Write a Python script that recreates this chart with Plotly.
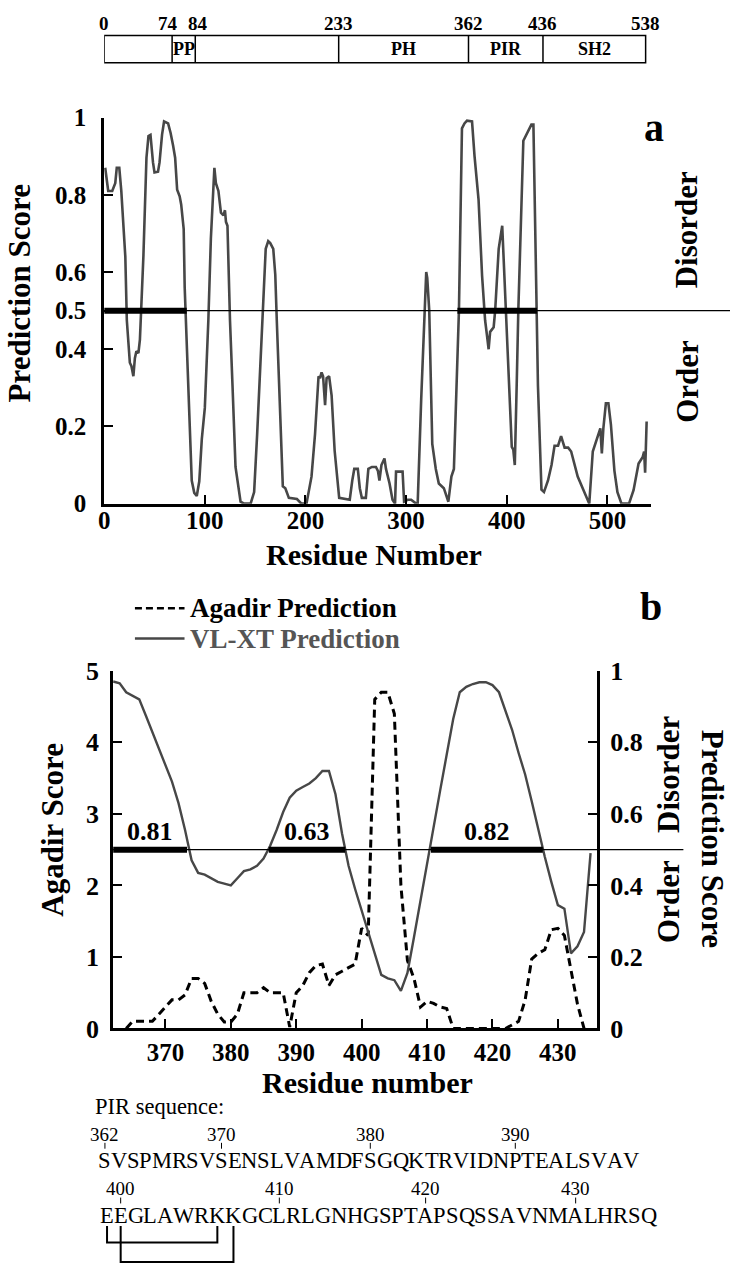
import plotly.graph_objects as go

# ---------------- data ----------------
domain_bounds = [0, 74, 84, 233, 362, 436, 538]
domain_names = ["", "PP", "", "PH", "PIR", "SH2"]

# Panel a: VL-XT disorder prediction over the full protein (vertices)
vlxt_a_res = [1, 4, 8, 11, 12.5, 15, 17, 21, 22.5, 25.5, 27, 29, 30.5, 32, 34, 35.5, 39, 42, 44, 46,
              48.5, 50, 53.5, 55, 57.5, 59.5, 63.5, 66, 68.5, 70.5, 72.5, 75, 76.5, 79, 80, 82.5, 85, 87,
              89.5, 92, 94.5, 97, 100, 103.5, 106, 108.5, 109.5, 111, 113.5, 116, 118.5, 120, 121, 122.5,
              125, 127.5, 130.5, 135.5, 139, 145.5, 149, 152, 155.5, 158.5, 160.5, 163, 165, 168, 170,
              171.5, 175, 177.5, 180, 183.5, 191.5, 196, 201, 206, 209.5, 213, 214.5, 216, 217.5, 219.5,
              221, 223.5, 226, 229, 233.5, 241, 244, 246.5, 248.5, 252, 254, 256, 260, 262.5, 266, 270,
              272, 273.5, 275.5, 278.5, 280, 283.5, 286.5, 289, 290, 296.5, 298, 301.5, 305, 310, 311.5,
              315, 318, 320, 321, 323, 326, 329.5, 332.5, 337.5, 342, 345, 347.5, 352.5, 355.5, 358, 360.5,
              365.5, 368, 372, 375.5, 378.5, 380.5, 382, 383.5, 387, 388.5, 392, 395.5, 397.5, 400, 402,
              405, 406.5, 408, 410, 411.5, 416.5, 420, 424.5, 426.5, 429.5, 431, 434.5, 437, 441, 444.5,
              447.5, 451, 454, 457.5, 461, 464, 470.5, 477, 482, 485.5, 490, 493, 494.5, 496, 498.5, 501,
              503.5, 507, 510, 514, 521.5, 526, 531, 535, 536.5, 537.5, 539]
vlxt_a_score = [0.87, 0.81, 0.81, 0.83, 0.87, 0.87, 0.81, 0.64, 0.475, 0.365, 0.357, 0.33, 0.377, 0.395,
                0.39, 0.425, 0.643, 0.896, 0.952, 0.955, 0.884, 0.858, 0.86, 0.884, 0.956, 0.99, 0.985,
                0.96, 0.927, 0.896, 0.813, 0.796, 0.775, 0.711, 0.56, 0.39, 0.22, 0.06, 0.028, 0.02,
                0.058, 0.167, 0.248, 0.475, 0.686, 0.85, 0.87, 0.83, 0.81, 0.754, 0.747, 0.76, 0.73,
                0.72, 0.475, 0.306, 0.095, 0.005, 0.0, 0.0, 0.03, 0.18, 0.39, 0.56, 0.66, 0.68, 0.675,
                0.66, 0.593, 0.475, 0.22, 0.045, 0.04, 0.015, 0.012, 0.0, 0.0, 0.07, 0.18, 0.33, 0.325,
                0.34, 0.33, 0.255, 0.325, 0.33, 0.28, 0.137, 0.015, 0.01, 0.01, 0.06, 0.09, 0.09, 0.04,
                0.015, 0.015, 0.09, 0.095, 0.095, 0.085, 0.06, 0.1, 0.117, 0.09, 0.053, 0.01, 0.0,
                0.083, 0.083, 0.005, 0.01, 0.01, 0.0, 0.0, 0.27, 0.5, 0.6, 0.585, 0.5, 0.155, 0.09,
                0.052, 0.04, 0.005, 0.07, 0.09, 0.5, 0.972, 0.985, 0.992, 0.99, 0.9, 0.787, 0.59,
                0.475, 0.433, 0.4, 0.445, 0.457, 0.5, 0.66, 0.72, 0.6, 0.475, 0.35, 0.147, 0.14, 0.1,
                0.32, 0.5, 0.94, 0.96, 0.982, 0.982, 0.5, 0.306, 0.036, 0.03, 0.06, 0.1, 0.15, 0.15,
                0.175, 0.145, 0.145, 0.135, 0.07, 0.03, 0.0, 0.135, 0.175, 0.195, 0.13, 0.195, 0.26,
                0.26, 0.205, 0.085, 0.03, 0.0, 0.0, 0.035, 0.104, 0.12, 0.135, 0.08, 0.213]
disorder_a_ranges = [[0, 82], [351, 430]]

# Panel b: PIR region, VL-XT (right axis) and Agadir (left axis)
pir_res = [362, 363, 364, 365, 366, 367, 368, 369, 370, 371, 372, 373, 374, 375, 376, 377, 378, 379,
           380, 381, 382, 383, 384, 385, 386, 387, 388, 389, 390, 391, 392, 393, 394, 395, 396, 397,
           398, 399, 400, 401, 402, 403, 404, 405, 406, 407, 408, 409, 410, 411, 412, 413, 414, 415,
           416, 417, 418, 419, 420, 421, 422, 423, 424, 425, 426, 427, 428, 429, 430, 431, 432, 433,
           434, 435]
vlxt_pir_score = [0.97, 0.965, 0.94, 0.93, 0.92, 0.875, 0.83, 0.785, 0.74, 0.69, 0.63, 0.555, 0.47,
                  0.435, 0.43, 0.42, 0.41, 0.405, 0.40, 0.42, 0.44, 0.445, 0.455, 0.475, 0.51, 0.555,
                  0.605, 0.645, 0.665, 0.675, 0.685, 0.70, 0.72, 0.72, 0.655, 0.545, 0.455, 0.39, 0.33,
                  0.27, 0.21, 0.15, 0.14, 0.135, 0.105, 0.155, 0.255, 0.36, 0.465, 0.565, 0.665, 0.765,
                  0.865, 0.94, 0.955, 0.963, 0.968, 0.968, 0.96, 0.94, 0.89, 0.835, 0.77, 0.71, 0.635,
                  0.555, 0.48, 0.41, 0.345, 0.335, 0.21, 0.23, 0.27, 0.49]
agadir_res = [364, 365, 366, 367, 368, 369, 370, 371, 372, 373, 374, 375, 376, 377, 378, 379, 380, 381,
              382, 383, 384, 385, 386, 387, 388, 389, 390, 391, 392, 393, 394, 395, 396, 397, 398, 399,
              400, 401, 402, 403, 404, 405, 406, 407, 408, 409, 410, 411, 412, 413, 414, 415, 416, 417,
              418, 419, 420, 421, 422, 423, 424, 425, 426, 427, 428, 429, 430, 431, 432, 433, 434]
agadir_score = [0.0, 0.1, 0.1, 0.1, 0.1, 0.2, 0.3, 0.4, 0.4, 0.47, 0.7, 0.7, 0.63, 0.38, 0.2, 0.09,
                0.09, 0.2, 0.5, 0.5, 0.5, 0.57, 0.5, 0.5, 0.5, 0.02, 0.5, 0.6, 0.78, 0.88, 0.9, 0.6,
                0.75, 0.8, 0.85, 0.9, 1.4, 1.3, 4.6, 4.7, 4.7, 4.4, 2.0, 0.95, 0.7, 0.3, 0.38, 0.35,
                0.3, 0.28, 0.0, 0.0, 0.0, 0.0, 0.0, 0.0, 0.0, 0.0, 0.0, 0.05, 0.1, 0.4, 0.97, 1.05,
                1.1, 1.38, 1.4, 1.3, 0.84, 0.34, 0.0]
disorder_b_ranges = [[362, 373.3], [385.8, 397.5], [410.6, 427.7]]
disorder_b_means = ["0.81", "0.63", "0.82"]

pir_seq_lines = ["SVSPMRSVSENSLVAMDFSGQKTRVIDNPTEALSVAV",
                 "EEGLAWRKKGCLRLGNHGSPTAPSQSSAVNMALHRSQ"]
pir_first_residue = 362
seq_tick_residues = [362, 370, 380, 390, 400, 410, 420, 430]
salt_bridges = [[399, 406], [400, 407]]

a_xticks = [0, 100, 200, 300, 400, 500]
a_yticks = [0, 0.2, 0.4, 0.5, 0.6, 0.8, 1]
a_yticktext = ["0", "0.2", "0.4", "0.5", "0.6", "0.8", "1"]
b_xticks = [370, 380, 390, 400, 410, 420, 430]
b_agadir_ticks = [0, 1, 2, 3, 4, 5]
b_pred_ticks = [0, 0.2, 0.4, 0.6, 0.8, 1]
b_pred_ticktext = ["0", "0.2", "0.4", "0.6", "0.8", "1"]

# ---------------- styling / layout helpers ----------------
W, H = 730, 1280
SERIF = "Liberation Serif, Times New Roman, serif"
INK = "#000000"
CURVE = "#474747"
LEGEND_GRAY = "#555555"


def fx(p):
    return p / W


def fy(p):
    return 1 - p / H


def label(x, y, s, size, bold=True, color=INK, angle=0, xanchor="center",
          xref="paper", yref="paper", xshift=0, yshift=0):
    return dict(x=x, y=y, xref=xref, yref=yref, text=s, showarrow=False, textangle=angle,
                xanchor=xanchor, yanchor="middle", xshift=xshift, yshift=yshift,
                font=dict(family=SERIF, size=size, color=color,
                          weight="bold" if bold else "normal"))


def axis_style(size, standoff):
    return dict(showline=True, linecolor=INK, linewidth=3, ticks="inside", ticklen=9,
                tickwidth=1.5, tickcolor=INK, showgrid=False, zeroline=False,
                ticklabelstandoff=standoff,
                tickfont=dict(family=SERIF, size=size, color=INK, weight="bold"),
                fixedrange=True)


fig = go.Figure()

# ---------------- traces ----------------
fig.add_trace(go.Scatter(x=vlxt_a_res, y=vlxt_a_score, mode="lines", xaxis="x", yaxis="y",
                         line=dict(color=CURVE, width=2.6), showlegend=False, hoverinfo="skip"))
fig.add_trace(go.Scatter(x=pir_res, y=vlxt_pir_score, mode="lines", xaxis="x2", yaxis="y3",
                         name="VL-XT Prediction",
                         line=dict(color=CURVE, width=2.4), showlegend=False, hoverinfo="skip"))
fig.add_trace(go.Scatter(x=agadir_res, y=agadir_score, mode="lines", xaxis="x2", yaxis="y2",
                         name="Agadir Prediction",
                         line=dict(color=INK, width=3, dash="8px,5px"), showlegend=False,
                         hoverinfo="skip"))

shapes = []
annotations = []

# ---------------- domain bar (top) ----------------
MIN_BOX = 23
draw_b = list(domain_bounds)
for i, name in enumerate(domain_names):
    a, b = domain_bounds[i], domain_bounds[i + 1]
    if name and b - a < MIN_BOX:
        c = (a + b) / 2
        draw_b[i], draw_b[i + 1] = c - MIN_BOX / 2, c + MIN_BOX / 2

BAR_TOP, BAR_BOT = 22, 50
shapes.append(dict(type="rect", xref="x", yref="paper", x0=draw_b[0], x1=draw_b[-1],
                   y0=fy(BAR_BOT), y1=fy(BAR_TOP), line=dict(color=INK, width=1.5)))
for xb in draw_b[1:-1]:
    shapes.append(dict(type="line", xref="x", yref="paper", x0=xb, x1=xb,
                       y0=fy(BAR_BOT), y1=fy(BAR_TOP), line=dict(color=INK, width=1.5)))
num_shift = {1: -4, 2: 3}
for i, v in enumerate(domain_bounds):
    annotations.append(label(draw_b[i], fy(10), str(v), 19, xref="x",
                             xshift=num_shift.get(i, 0)))
for i, name in enumerate(domain_names):
    if name:
        annotations.append(label((draw_b[i] + draw_b[i + 1]) / 2, fy(36), name, 18, xref="x"))

# ---------------- panel a ----------------
A_LEFT, A_RIGHT, A_TOP, A_BOT = 99, 650, 106, 501
shapes.append(dict(type="line", xref="paper", yref="y", x0=fx(A_LEFT), x1=1.0, y0=0.5, y1=0.5,
                   line=dict(color=INK, width=1.2)))
for r0, r1 in disorder_a_ranges:
    shapes.append(dict(type="line", xref="x", yref="y", x0=r0, x1=r1, y0=0.5, y1=0.5,
                       line=dict(color=INK, width=6)))
annotations += [
    label(fx(14), fy(286), "Prediction Score", 31, angle=-90),
    label(fx(371), fy(553), "Residue Number", 30),
    label(fx(653), fy(116), "a", 40),
    label(fx(687), fy(221), "Disorder", 31, angle=-90),
    label(fx(687), fy(376), "Order", 31, angle=-90),
]

# ---------------- panel b ----------------
B_LEFT, B_RIGHT, B_TOP, B_BOT = 108, 596, 672, 1038
shapes.append(dict(type="line", xref="paper", yref="y3", x0=fx(B_LEFT), x1=fx(683),
                   y0=0.5, y1=0.5, line=dict(color=INK, width=1.2)))
for (r0, r1), txt in zip(disorder_b_ranges, disorder_b_means):
    shapes.append(dict(type="line", xref="x2", yref="y3", x0=r0, x1=r1, y0=0.5, y1=0.5,
                       line=dict(color=INK, width=6)))
    annotations.append(label((r0 + r1) / 2, 0.5, txt, 26, xref="x2", yref="y3", yshift=18))
annotations += [
    label(fx(46), fy(835), "Agadir Score", 31, angle=-90),
    label(fx(712), fy(844), "Prediction Score", 31, angle=90),
    label(fx(668), fy(778), "Disorder", 31, angle=-90),
    label(fx(668), fy(908), "Order", 31, angle=-90),
    label(fx(364), fy(1093), "Residue number", 30),
    label(fx(650), fy(606), "b", 40),
]

# legend (drawn manually)
LEG_X0, LEG_X1, LEG_TX = 130, 180, 184
legend_rows = [("Agadir Prediction", INK, "7px,4px", 608), ("VL-XT Prediction", LEGEND_GRAY, None, 639)]
for name, col, dash, yrow in legend_rows:
    line = dict(color=INK if dash else CURVE, width=2.6)
    if dash:
        line["dash"] = dash
    shapes.append(dict(type="line", xref="paper", yref="paper", x0=fx(LEG_X0), x1=fx(LEG_X1),
                       y0=fy(yrow), y1=fy(yrow), line=line))
    annotations.append(label(fx(LEG_TX), fy(yrow), name, 27, color=col, xanchor="left"))

# ---------------- PIR sequence ----------------
TW = {'A': 722, 'B': 667, 'C': 667, 'D': 722, 'E': 611, 'F': 556, 'G': 722, 'H': 722, 'I': 333,
      'J': 389, 'K': 722, 'L': 611, 'M': 889, 'N': 722, 'O': 722, 'P': 556, 'Q': 722, 'R': 667,
      'S': 556, 'T': 611, 'U': 722, 'V': 722, 'W': 944, 'X': 722, 'Y': 722, 'Z': 611}
SEQ_SIZE = 22.5
line_left = [93.5, 95]
line_char_y = [1173, 1229]
line_num_y = [1146, 1202]
line_tick = [(1155, 1161), (1211, 1217)]

annotations.append(label(fx(88), fy(1118), "PIR sequence:", 22.5, bold=False, xanchor="left"))
centers = {}
for li, seq in enumerate(pir_seq_lines):
    xcur = line_left[li]
    for ci, ch in enumerate(seq):
        w = TW[ch] / 1000 * SEQ_SIZE
        res = pir_first_residue + li * len(pir_seq_lines[0]) + ci
        centers[res] = (xcur + w / 2, li)
        annotations.append(label(fx(xcur + w / 2), fy(line_char_y[li]), ch, SEQ_SIZE, bold=False))
        xcur += w

for r in seq_tick_residues:
    cx, li = centers[r]
    t0, t1 = line_tick[li]
    shapes.append(dict(type="line", xref="paper", yref="paper", x0=fx(cx), x1=fx(cx),
                       y0=fy(t0), y1=fy(t1), line=dict(color=INK, width=1)))
    annotations.append(label(fx(cx), fy(line_num_y[li]), str(r), 19, bold=False))

BR_TOP = 1240
BR_BOTTOMS = [1257, 1277]
for k, (r1, r2) in enumerate(salt_bridges):
    x1, x2 = centers[r1][0], centers[r2][0]
    yb = BR_BOTTOMS[k]
    path = (f"M {fx(x1)},{fy(BR_TOP)} L {fx(x1)},{fy(yb)} "
            f"L {fx(x2)},{fy(yb)} L {fx(x2)},{fy(BR_TOP)}")
    shapes.append(dict(type="path", xref="paper", yref="paper", path=path,
                       line=dict(color=INK, width=2)))

# ---------------- axes ----------------
fig.update_layout(
    width=W, height=H, margin=dict(l=0, r=0, t=0, b=0), autosize=False,
    paper_bgcolor="white", plot_bgcolor="white", showlegend=False,
    xaxis=dict(domain=[fx(A_LEFT), fx(A_RIGHT)], range=[0, 543], anchor="y",
               tickvals=a_xticks, **axis_style(25, -8)),
    yaxis=dict(domain=[fy(A_BOT), fy(A_TOP)], range=[0, 1], anchor="x",
               tickvals=a_yticks, ticktext=a_yticktext, **axis_style(25, 10)),
    xaxis2=dict(domain=[fx(B_LEFT), fx(B_RIGHT)], range=[362, 436], anchor="y2",
                tickvals=b_xticks, **axis_style(25, 0)),
    yaxis2=dict(domain=[fy(B_BOT), fy(B_TOP)], range=[0, 5], anchor="x2",
                tickvals=b_agadir_ticks, **axis_style(26, 6)),
    yaxis3=dict(domain=[fy(B_BOT), fy(B_TOP)], range=[0, 1], anchor="x2", overlaying="y2",
                side="right", tickvals=b_pred_ticks, ticktext=b_pred_ticktext,
                **axis_style(26, 5)),
    shapes=shapes,
    annotations=annotations,
)

fig.write_html("out.html", config={"displayModeBar": False},
               post_script="document.body.style.margin='0';")
